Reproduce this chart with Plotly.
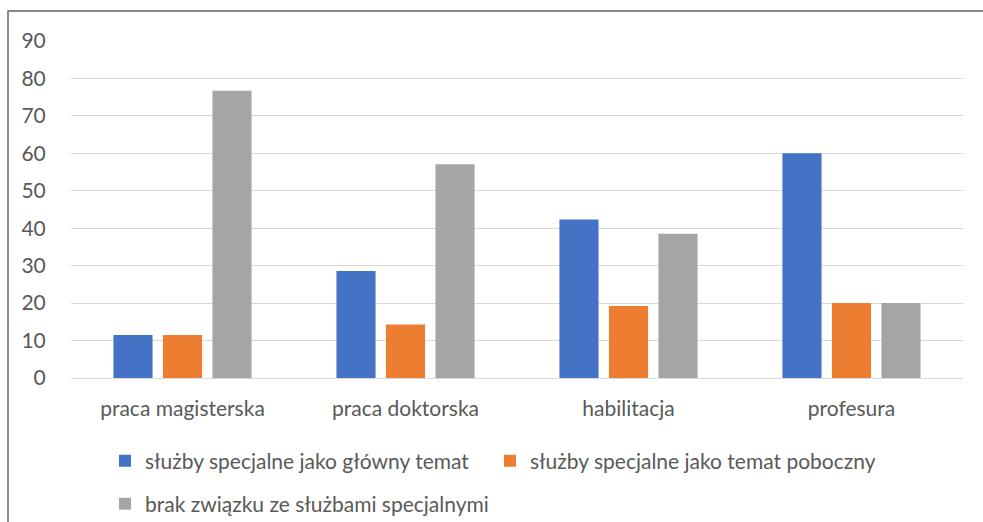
import plotly.graph_objects as go

categories = ["praca magisterska", "praca doktorska", "habilitacja", "profesura"]
main_topic = [11.5, 28.6, 42.3, 60.0]
side_topic = [11.5, 14.3, 19.2, 20.0]
no_relation = [76.7, 57.1, 38.5, 20.0]
y_ticks = [0, 10, 20, 30, 40, 50, 60, 70, 80, 90]

series = [
    ("służby specjalne jako główny temat", main_topic, "#4472C4", "legend"),
    ("służby specjalne jako temat poboczny", side_topic, "#ED7D31", "legend"),
    ("brak związku ze służbami specjalnymi", no_relation, "#A5A5A5", "legend2"),
]

FONT = "Lato, Carlito, Calibri, sans-serif"
TEXT = "#595959"
FS = 21

W, H = 983, 522
L, R, T, B = 71, 20, 41, 144
pw, ph = W - L - R, H - T - B


def px_x(x):
    return (x - L) / pw


def px_y(y):
    return (H - B - y) / ph


fig = go.Figure()
for name, vals, color, leg in series:
    fig.add_trace(go.Bar(
        x=categories, y=vals, name=name,
        marker=dict(color=color, line=dict(width=0)),
        legend=leg,
    ))

legend_style = dict(orientation="h", xref="container", yref="container",
                    xanchor="left", yanchor="middle",
                    font=dict(family=FONT, size=FS, color=TEXT),
                    bgcolor="rgba(0,0,0,0)")

fig.update_layout(
    width=W, height=H,
    margin=dict(l=L, r=R, t=T, b=B),
    paper_bgcolor="white", plot_bgcolor="white",
    font=dict(family=FONT, size=FS, color=TEXT),
    barmode="group",
    bargap=0.334,
    bargroupgap=0.21,
    legend=dict(legend_style, x=105 / W, y=1 - 461 / H,
                entrywidth=340, entrywidthmode="pixels"),
    legend2=dict(legend_style, x=105 / W, y=1 - 504 / H),
    shapes=[dict(type="rect", xref="paper", yref="paper",
                 x0=px_x(8), x1=px_x(995), y0=px_y(535), y1=px_y(11),
                 line=dict(color="#666666", width=1.5))],
)
fig.update_xaxes(showgrid=False, showline=False, automargin=False,
                 ticks="outside", ticklen=12, tickcolor="white",
                 tickfont=dict(family=FONT, size=FS, color=TEXT))
fig.update_yaxes(range=[0, 90], tickvals=y_ticks, showgrid=True,
                 automargin=False,
                 gridcolor="#D9D9D9", gridwidth=1, zeroline=True,
                 zerolinecolor="#D9D9D9", zerolinewidth=1,
                 ticks="outside", ticklen=20, tickcolor="white",
                 tickfont=dict(family=FONT, size=FS, color=TEXT))

# the page is exactly the figure size, so drop the default body margin
fig.write_html("out.html", config={"displayModeBar": False},
               post_script="document.body.style.margin='0';")
